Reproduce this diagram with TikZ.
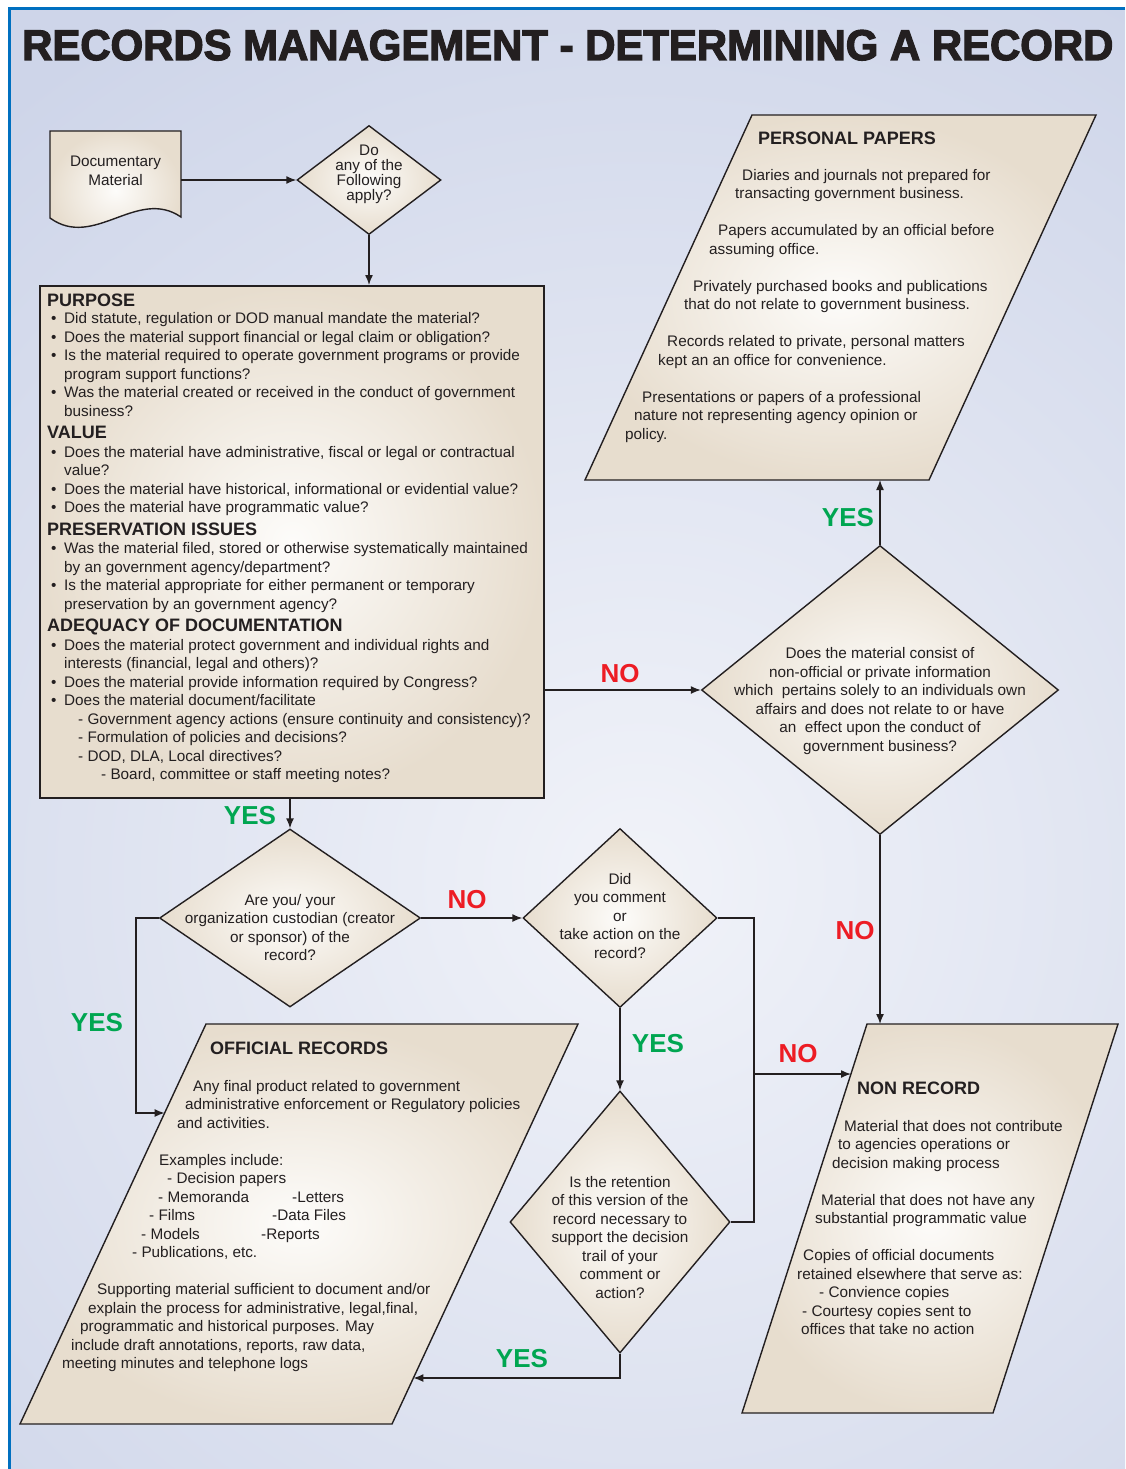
\documentclass[tikz,border=0pt]{standalone}
\usepackage{graphicx}
\usepackage{fontspec}
\setmainfont{Liberation Sans}
\newfontfamily\titlefont{Liberation Sans}[BoldFeatures={FakeBold=3}]
\usetikzlibrary{shapes.geometric,arrows.meta,calc}

\definecolor{bgblue}{RGB}{206,213,233}
\definecolor{bglight}{RGB}{241,243,249}
\definecolor{frameblue}{RGB}{0,112,192}
\definecolor{paper}{RGB}{231,221,206}
\definecolor{paperlight}{RGB}{253,252,250}
\definecolor{yesgreen}{RGB}{0,166,81}
\definecolor{nored}{RGB}{237,28,36}
\definecolor{ink}{RGB}{35,31,32}

\newcommand{\bul}{\makebox[17pt][l]{\hspace{4pt}\textbullet}}
\newcommand{\heading}[1]{{\fontsize{18}{20}\selectfont\bfseries #1}}

\tikzset{
  shapefill/.style={draw=ink,line width=1.4pt,inner color=paperlight,outer color=paper},
  decision/.style={diamond,shapefill,inner sep=0pt},
  qtext/.style={align=center,inner sep=0pt,font=\fontsize{15.3}{18.5}\selectfont},
  bodytext/.style={align=left,inner sep=0pt,font=\fontsize{15.3}{18.5}\selectfont},
  headtext/.style={inner sep=0pt,font=\fontsize{18}{20}\selectfont\bfseries},
  yes/.style={inner sep=0pt,text=yesgreen,font=\fontsize{26}{28}\selectfont\bfseries},
  no/.style={yes,text=nored},
  link/.style={draw=ink,line width=1.4pt},
}

\begin{document}
\begin{tikzpicture}[x=1pt,y=-1pt,>={Latex[length=10pt,width=8pt]},text=ink]
\useasboundingbox (0,0) rectangle (1125,1469);

% background and frame
\fill[bgblue] (9,9) rectangle (1125,1469);
\begin{scope}
  \clip (9,9) rectangle (1125,1469);
  \shade[inner color=bglight,outer color=bgblue] (640,880) circle (1000);
\end{scope}
\draw[frameblue,line width=3pt] (9,1469) -- (9,9) -- (1125,9);

\node[anchor=base west,inner sep=0pt] (title) at (22,60)
  {\resizebox{1091pt}{30pt}{\titlefont\bfseries RECORDS MANAGEMENT - DETERMINING A RECORD}};

% shapes
\path[shapefill] (50,131) -- (181,131) -- (181,217)
  .. controls (137,187) and (94,250) .. (50,218) -- cycle;
\path[shapefill] (752,115) -- (1096,115) -- (929,480) -- (585,480) -- cycle;
\path[shapefill] (206,1024) -- (578,1024) -- (392,1424) -- (20,1424) -- cycle;
\path[shapefill] (867,1024) -- (1118,1024) -- (993,1413) -- (742,1413) -- cycle;

\coordinate (ppbot) at (880,480);
\coordinate (offleft) at (164.6,1113);
\coordinate (offright) at (413.4,1378);
\coordinate (nrtop) at (880,1024);
\coordinate (nrleft) at (851,1074);
\coordinate (nrjoin) at (754,1074);

\node[minimum width=131pt,minimum height=98pt,inner sep=0pt] (docmat) at (115.5,180) {};
\node[qtext] (doctext) at (115.5,171) {Documentary\\Material};

\node[decision,minimum width=144pt,minimum height=109pt] (q1) at (369,180) {};
\node[qtext,font=\fontsize{15.3}{15}\selectfont] (q1text) at (369,174.5) {Do\\any of the\\Following\\apply?};

\node[draw=ink,line width=2.4pt,inner color=paperlight,outer color=paper,
  minimum width=504pt,minimum height=512pt,inner sep=0pt,anchor=north west] (criteria) at (39,285) {};
\node[bodytext,anchor=north west] (criteriatext) at (47,293.5) {%
\heading{PURPOSE}\\[-1pt]
\bul Did statute, regulation or DOD manual mandate the material?\\
\bul Does the material support financial or legal claim or obligation?\\
\bul Is the material required to operate government programs or provide\\
\hspace*{17pt}program support functions?\\
\bul Was the material created or received in the conduct of government\\
\hspace*{17pt}business?\\[4pt]
\heading{VALUE}\\
\bul Does the material have administrative, fiscal or legal or contractual\\
\hspace*{17pt}value?\\
\bul Does the material have historical, informational or evidential value?\\
\bul Does the material have programmatic value?\\[4pt]
\heading{PRESERVATION ISSUES}\\
\bul Was the material filed, stored or otherwise systematically maintained\\
\hspace*{17pt}by an government agency/department?\\
\bul Is the material appropriate for either permanent or temporary\\
\hspace*{17pt}preservation by an government agency?\\[4pt]
\heading{ADEQUACY OF DOCUMENTATION}\\
\bul Does the material protect government and individual rights and\\
\hspace*{17pt}interests (financial, legal and others)?\\
\bul Does the material provide information required by Congress?\\
\bul Does the material document/facilitate\\
\hspace*{31pt}- Government agency actions (ensure continuity and consistency)?\\
\hspace*{31pt}- Formulation of policies and decisions?\\
\hspace*{31pt}- DOD, DLA, Local directives?\\
\hspace*{54pt}- Board, committee or staff meeting notes?};

\node[decision,minimum width=357pt,minimum height=289pt] (q3) at (880,690) {};
\node[qtext] (q3text) at (880,701) {Does the material consist of\\non-official or private information\\which\ \ pertains solely to an individuals own\\affairs and does not relate to or have\\an\ \ effect upon the conduct of\\government business?};

\node[decision,minimum width=261pt,minimum height=178pt] (q2) at (290,918) {};
\node[qtext] (q2text) at (290,927.5) {Are you/ your\\organization custodian (creator\\or sponsor) of the\\record?};

\node[decision,minimum width=194pt,minimum height=179pt] (q4) at (620,918) {};
\node[qtext] (q4text) at (620,916) {Did\\you comment\\or\\take action on the\\record?};

\node[decision,minimum width=220pt,minimum height=262pt] (q5) at (620,1222) {};
\node[qtext] (q5text) at (620,1237.5) {Is the retention\\of this version of the\\record necessary to\\support the decision\\trail of your\\comment or\\action?};

% texts of the outcome boxes
\node[headtext,anchor=base west] (pphead) at (758,144.5) {PERSONAL PAPERS};
\node[bodytext,anchor=north west] (pptext) at (625,169) {%
\hspace*{117pt}Diaries and journals not prepared for\\
\hspace*{110pt}transacting government business.\\
\\
\hspace*{93pt}Papers accumulated by an official before\\
\hspace*{84pt}assuming office.\\
\\
\hspace*{68pt}Privately purchased books and publications\\
\hspace*{59pt}that do not relate to government business.\\
\\
\hspace*{42pt}Records related to private, personal matters\\
\hspace*{33pt}kept an an office for convenience.\\
\\
\hspace*{17pt}Presentations or papers of a professional\\
\hspace*{9pt}nature not representing agency opinion or\\
policy.};

\node[headtext,anchor=base west] (offhead) at (210,1054.5) {OFFICIAL RECORDS};
\node[bodytext,anchor=north west] (offtext) at (62,1080) {%
\hspace*{131pt}Any final product related to government\\
\hspace*{123pt}administrative enforcement or Regulatory policies\\
\hspace*{115pt}and activities.\\
\\
\hspace*{97pt}Examples include:\\
\hspace*{105pt}- Decision papers\\
\hspace*{96pt}\makebox[134pt][l]{- Memoranda}-Letters\\
\hspace*{87pt}\makebox[123pt][l]{- Films}-Data Files\\
\hspace*{79pt}\makebox[120pt][l]{- Models}-Reports\\
\hspace*{70pt}- Publications, etc.\\
\\
\hspace*{35pt}Supporting material sufficient to document and/or\\
\hspace*{26pt}explain the process for administrative, legal,final,\\
\hspace*{18pt}programmatic and historical purposes. May\\
\hspace*{9pt}include draft annotations, reports, raw data,\\
meeting minutes and telephone logs};

\node[headtext,anchor=base west] (nrhead) at (857,1094.5) {NON RECORD};
\node[bodytext,anchor=north west] (nrtext) at (797,1120) {%
\hspace*{47pt}Material that does not contribute\\
\hspace*{41pt}to agencies operations or\\
\hspace*{35pt}decision making process\\
\\
\hspace*{24pt}Material that does not have any\\
\hspace*{18pt}substantial programmatic value\\
\\
\hspace*{6pt}Copies of official documents\\
retained elsewhere that serve as:\\
\hspace*{22pt}- Convience copies\\
\hspace*{5pt}- Courtesy copies sent to\\
\hspace*{4pt}offices that take no action};

% connectors
\draw[link,->] (docmat.east) -- (q1.west);
\draw[link,->] (q1.south) -- (q1.south |- criteria.north);
\draw[link,->] (criteria.south -| q2.north) -- (q2.north);
\draw[link,->] (criteria.east |- q3.west) -- (q3.west);
\draw[link,->] (q3.north) -- (ppbot);
\draw[link,->] (q3.south) -- (nrtop);
\draw[link,->] (q2.east) -- (q4.west);
\draw[link,->] (q2.west) -- ++(-23,0) |- (offleft);
\draw[link,->] (q4.south) -- (q5.north);
\draw[link] (q4.east) -| (nrjoin);
\draw[link] (q5.east) -| (nrjoin);
\draw[link,->] (nrjoin) -- (nrleft);
\draw[link,->] (q5.south) |- (offright);

% answers
\node[yes] (yes1) at (250,816) {YES};
\node[no] (no1) at (620,674) {NO};
\node[yes] (yes2) at (848,518) {YES};
\node[no] (no2) at (855,931) {NO};
\node[no] (no3) at (467,900) {NO};
\node[yes] (yes3) at (97,1023) {YES};
\node[yes] (yes4) at (658,1044) {YES};
\node[no] (no4) at (798,1054) {NO};
\node[yes] (yes5) at (522,1359) {YES};
\end{tikzpicture}
\end{document}
